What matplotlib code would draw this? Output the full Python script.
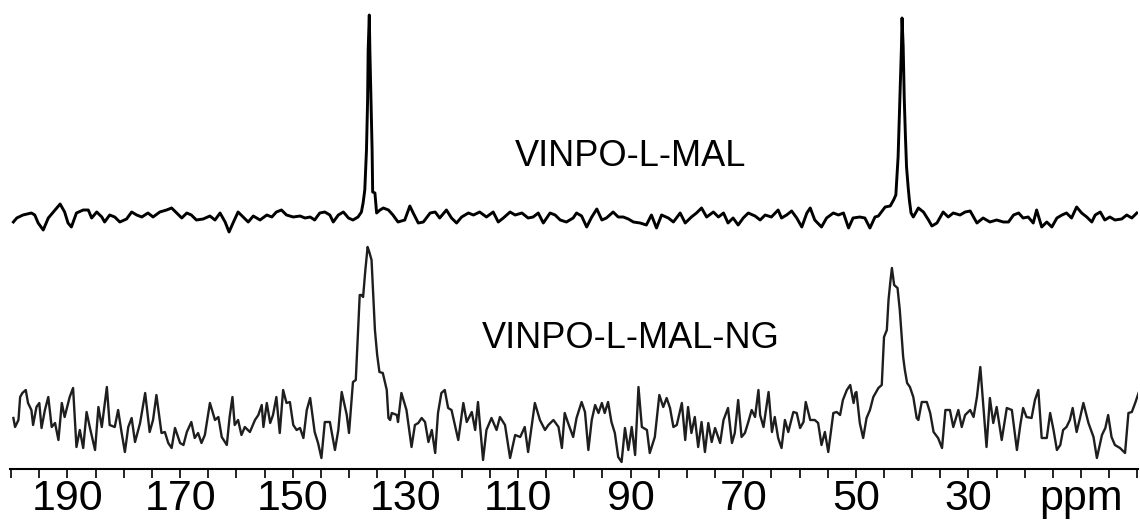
import matplotlib
matplotlib.use("Agg")
import matplotlib.pyplot as plt

plt.rcParams['font.family'] = ['Liberation Sans', 'DejaVu Sans']

# chemical shift (ppm) and intensity (a.u.)
ppm_top = [199.6, 199.0, 197.9, 196.4, 195.8, 195.2, 194.3, 193.4, 192.5, 191.3, 190.5, 189.9, 189.3, 188.4,
           187.2, 186.3, 185.7, 184.8, 183.9, 183.4, 182.5, 181.6, 180.7, 179.5, 178.6, 177.7, 176.8, 175.7,
           174.8, 173.6, 172.4, 171.5, 170.6, 169.7, 168.8, 168.0, 167.1, 165.9, 164.7, 163.8, 162.9, 162.0,
           161.3, 160.6, 159.7, 158.8, 157.9, 157.0, 155.8, 154.6, 153.7, 152.9, 152.0, 151.1, 149.9, 148.7,
           147.8, 146.9, 146.1, 145.2, 144.3, 143.4, 142.8, 141.9, 141.0, 140.1, 139.3, 138.4, 137.8, 137.5,
           137.2, 136.9, 136.7, 136.6, 136.4, 136.3, 136.1, 135.9, 135.8, 135.4, 135.1, 134.5, 133.9, 133.0,
           132.2, 131.3, 130.1, 129.2, 128.6, 127.7, 126.8, 125.6, 124.7, 123.9, 122.7, 121.8, 120.9, 120.0,
           118.8, 117.9, 116.8, 115.6, 114.4, 113.5, 112.6, 111.4, 110.5, 109.3, 108.2, 107.3, 106.4, 105.5,
           104.3, 103.4, 102.5, 101.4, 100.2, 99.6, 98.7, 97.8, 96.9, 96.0, 95.1, 94.3, 93.1, 92.2, 91.3,
           90.4, 89.5, 88.3, 87.2, 86.3, 85.4, 84.5, 83.3, 82.4, 81.2, 80.3, 79.2, 78.3, 77.4, 76.5, 75.3,
           74.4, 73.5, 72.7, 71.8, 70.9, 70.0, 69.1, 67.9, 67.0, 66.1, 65.0, 63.8, 63.2, 62.3, 61.4, 60.5,
           59.6, 58.7, 58.1, 57.3, 56.1, 55.2, 54.0, 53.1, 52.2, 51.3, 50.5, 49.3, 48.4, 47.5, 46.6, 46.0,
           44.8, 43.9, 43.3, 42.9, 42.5, 42.2, 41.9, 41.8, 41.6, 41.4, 41.2, 41.0, 40.7, 40.5, 40.2, 39.8,
           38.9, 38.0, 37.1, 36.5, 35.6, 34.5, 33.6, 32.7, 31.5, 30.6, 29.7, 28.5, 27.4, 26.2, 25.0, 23.8,
           22.9, 22.0, 21.1, 20.3, 19.4, 18.5, 17.9, 17.0, 16.1, 15.2, 14.3, 13.4, 12.6, 11.7, 10.8, 9.9,
           9.0, 8.1, 7.5, 6.6, 5.8, 4.9, 4.0, 2.8, 1.9, 1.0, 0.1]
int_top = [-6, -2, 1, 3, 1, -7, -14, -2, 4, 12, 4, -7, -11, 3,
           6, 6, -2, 4, -1, -6, 1, -1, -6, -3, 4, 1, -1, 3,
           -1, 4, 6, 8, 3, -2, 3, 1, -4, -3, 0, -4, 3, -6,
           -16, -7, 4, -1, -6, 0, -4, 1, -1, 4, 6, 1, -1, 0,
           -2, -1, -4, 3, 4, 1, -6, 1, 4, -2, -4, -1, 4, 13,
           26, 66, 116, 166, 201, 166, 116, 66, 24, 23, 3, 6, 8, 6,
           1, -6, -4, 10, 3, -7, -6, 3, 4, -2, 6, -2, -7, -1,
           3, 1, 4, -1, 4, -6, -2, 4, 1, 3, -2, -1, 3, -7,
           3, 1, -4, -6, -2, 3, 0, -11, -1, 7, -4, -2, 4, -1, -1,
           -3, -6, -7, -9, 1, -12, 1, -2, -6, 3, -7, -1, 3, 8, -1, 4,
           -1, 3, -7, -2, -9, -2, 3, 0, -4, 1, -1, 6, -2, 1, 5, -2,
           -11, 3, 8, -4, -11, -2, 3, 1, 3, -12, -2, -1, -2, -12, -1, 0,
           9, 10, 16, 21, 59, 116, 170, 198, 170, 116, 80, 49, 28, 16, 3, -1,
           8, 4, -4, -10, -7, 4, -1, 3, 1, 4, 5, -7, -2, -6, -4, -6,
           -6, 1, 3, -2, -1, -7, 6, -11, -6, -11, -2, 1, 3, -2, 9, 3,
           -1, -6, 1, 4, -4, -1, -4, -3, 1, -2, 3]

ppm_bot = [199.6, 199.3, 198.7, 198.4, 198.0, 197.4, 197.0, 196.4, 196.1, 195.5, 195.0, 194.6, 194.0, 193.4,
           192.8, 192.2, 191.6, 191.0, 190.5, 189.6, 189.0, 188.4, 187.8, 187.2, 186.6, 186.0, 185.1, 184.5,
           183.9, 183.0, 182.5, 181.6, 181.0, 180.4, 179.8, 179.2, 178.6, 178.0, 177.1, 176.2, 175.4, 174.8,
           174.2, 173.3, 172.7, 172.1, 171.5, 170.9, 170.0, 169.4, 168.8, 168.0, 167.4, 166.8, 166.2, 165.6,
           164.7, 163.8, 163.2, 162.6, 161.7, 161.2, 160.7, 160.3, 159.7, 159.1, 158.5, 157.6, 156.7, 156.1,
           155.5, 155.2, 154.6, 154.0, 153.5, 152.9, 152.3, 151.7, 151.1, 150.5, 149.9, 149.3, 148.7, 148.1,
           147.5, 146.9, 146.1, 145.5, 144.9, 144.3, 143.4, 142.5, 141.9, 141.3, 140.4, 140.0, 139.3, 138.8,
           138.1, 137.8, 137.5, 137.1, 136.7, 136.4, 136.0, 135.7, 135.4, 135.0, 134.6, 134.0, 133.3, 133.0,
           132.7, 132.4, 131.5, 131.3, 130.7, 129.8, 128.9, 128.3, 127.7, 127.1, 126.5, 125.9, 125.3, 124.7,
           124.2, 123.6, 123.0, 122.4, 121.8, 120.6, 119.7, 119.1, 118.2, 117.6, 117.1, 116.2, 115.6, 114.7,
           113.8, 113.2, 112.3, 111.4, 110.5, 109.6, 108.8, 108.2, 107.0, 106.1, 105.2, 104.6, 103.7, 102.8,
           102.2, 101.7, 101.1, 100.2, 99.6, 98.7, 98.1, 97.5, 96.9, 96.3, 95.7, 95.1, 94.6, 94.0, 93.4,
           92.8, 92.2, 91.6, 91.0, 90.4, 89.8, 89.2, 88.6, 88.0, 87.1, 86.6, 85.7, 84.9, 84.2, 83.6, 83.0,
           82.4, 81.8, 80.9, 80.3, 79.8, 79.2, 78.6, 78.0, 77.4, 76.8, 76.2, 75.6, 75.0, 74.1, 73.5, 72.7,
           72.0, 71.5, 70.9, 70.3, 69.7, 69.1, 68.5, 67.9, 67.3, 67.0, 66.4, 65.5, 64.9, 64.4, 63.8, 63.2,
           62.6, 62.0, 61.1, 60.5, 59.9, 59.3, 58.9, 58.1, 57.3, 56.7, 56.1, 55.5, 54.9, 54.0, 53.4, 52.8,
           52.3, 51.6, 51.0, 50.4, 50.1, 49.9, 49.3, 48.7, 48.1, 47.5, 46.9, 46.0, 45.4, 45.0, 44.5, 44.2,
           43.9, 43.6, 43.2, 42.6, 42.2, 41.6, 41.3, 40.9, 40.4, 39.8, 39.2, 38.9, 38.3, 37.4, 36.8, 36.2,
           35.4, 34.7, 34.1, 33.3, 32.7, 31.8, 31.2, 30.6, 29.7, 29.1, 28.5, 27.9, 27.4, 26.8, 26.2, 25.6,
           25.0, 24.1, 23.2, 22.3, 21.4, 20.8, 20.3, 19.7, 18.8, 18.2, 17.6, 17.0, 16.1, 15.5, 14.9, 14.3,
           13.7, 13.2, 12.6, 12.0, 11.5, 10.8, 10.2, 9.6, 8.7, 7.8, 7.2, 6.3, 5.7, 5.2, 4.6, 4.0,
           3.1, 2.2, 1.6, 1.0, 0.4, -0.2]
int_bot = [2, -7, 0, 23, 27, 30, 17, 10, -5, 13, 17, -8, 10, 23,
           -7, -3, -20, 17, 3, 23, 32, -27, -10, -28, 8, -8, -30, 13,
           -7, 33, -5, -7, 10, -12, -32, -7, 2, -22, -3, 27, -12, 0,
           25, -13, -12, -23, -28, -8, -23, -25, -12, -2, -18, -13, -23, -15,
           17, 0, 3, -17, -25, 3, 23, -5, 0, -15, -7, -12, 0, 5,
           15, -7, 17, -3, 5, 23, -13, 30, 17, 18, -5, -10, -8, -18,
           10, 22, -12, -23, -38, -2, -2, -30, -10, 28, 5, -13, 38, 40,
           125, 125, 123, 150, 173, 168, 160, 125, 90, 65, 48, 47, 30, 2,
           0, 7, 5, -2, 27, 10, -27, -5, -3, 2, -2, -22, -10, -33,
           7, 27, 30, 12, 10, -20, 17, -2, 8, -10, 18, -40, -10, 2,
           -10, 3, -5, -38, -15, -17, -7, -32, 17, 0, -10, -5, 0, -7,
           -28, 7, -3, -17, 2, 18, 8, -30, 0, 15, 7, 17, 7, 18, -2,
           -13, -37, -42, -8, -30, -7, -35, 33, -7, -10, -33, -17, 25, 13, 22, 12,
           -7, -5, 17, -20, 13, -13, 3, -27, -2, -32, -3, -22, -8, -23, 0, 12,
           -23, -13, 20, -17, -13, -2, 10, 3, 30, 5, -7, 28, -12, 3, -18, -28,
           0, -12, 8, 7, -8, -2, 18, 0, 0, -3, -25, -12, -32, 7, 8, 5,
           20, 30, 35, 17, 27, 28, -3, -18, 2, 10, 23, 32, 35, 83, 90, 120,
           137, 152, 135, 132, 110, 63, 50, 37, 33, 23, 2, 0, 18, 18, 7, -12,
           -18, -28, 10, 10, -7, 10, -7, 5, 10, 3, 23, 53, 17, -27, 22, -3,
           13, -20, 12, 10, -30, -5, 12, 3, 2, 20, 30, -18, -18, 7, -10, -30,
           -25, -10, -7, 0, 12, -12, 2, 17, -3, -17, -38, -15, -8, 5, -17, -25,
           -28, -33, 7, 8, 17, 27]

label_pos = [190, 170, 150, 130, 110, 90, 70, 50, 30, 10]
label_txt = ['190', '170', '150', '130', '110', '90', '70', '50', '30', 'ppm']
minor_pos = [t for t in range(200, -1, -5) if t not in label_pos]

fig = plt.figure(figsize=(11.4, 5.22), dpi=100)
ax = fig.add_axes([10 / 1140, 53 / 522, 1128 / 1140, 469 / 522])

ax.plot(ppm_top, [v + 204 for v in int_top], color='black', lw=2.1, solid_joinstyle='round')
ax.plot(ppm_bot, int_bot, color='#1e1e1e', lw=1.7, solid_joinstyle='round')

ax.text(90, 264, 'VINPO-L-MAL', ha='center', va='center', fontsize=26)
ax.text(90, 82, 'VINPO-L-MAL-NG', ha='center', va='center', fontsize=26)

ax.set_xlim(200.2, -0.1)
ax.set_ylim(-49, 420)

ax.set_xticks(label_pos)
ax.set_xticklabels(label_txt)
ax.set_xticks(minor_pos, minor=True)
ax.tick_params(axis='x', which='both', direction='out', length=6.5, width=1.2)
ax.tick_params(axis='x', which='major', labelsize=31, pad=1)
ax.set_yticks([])
for s in ['top', 'left', 'right']:
    ax.spines[s].set_visible(False)
ax.spines['bottom'].set_linewidth(1.5)

fig.savefig('out.png', dpi=100)
